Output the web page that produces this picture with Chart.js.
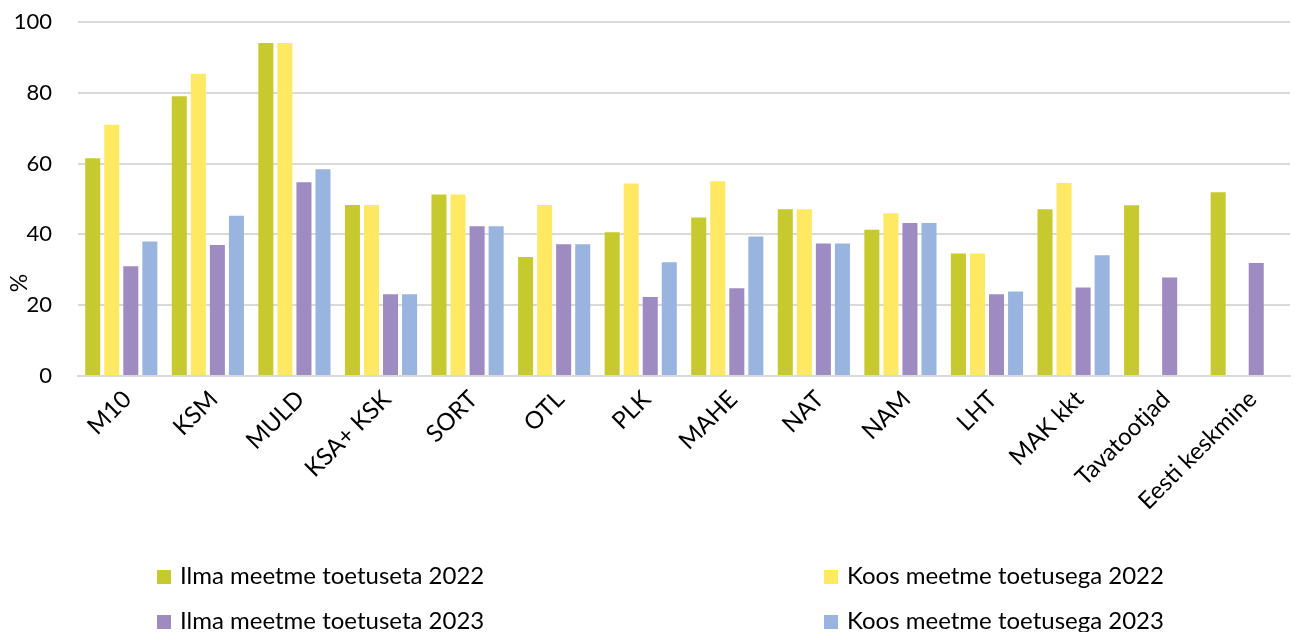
<!DOCTYPE html>
<html>
<head>
<meta charset="utf-8">
<script src="https://cdn.jsdelivr.net/npm/chart.js@4.4.0/dist/chart.umd.min.js"></script>
<style>
    body { margin: 0; background: #fff; }
    .wrap { position: relative; width: 1295px; height: 632px; }
    .legend { position: absolute; left: 0; top: 0; font-family: Lato, sans-serif; font-size: 24px; color: #000; }
    .legend-item { position: absolute; white-space: nowrap; line-height: 28px; }
    .legend-item span.box { display: inline-block; width: 14px; height: 14px; margin-right: 9px; vertical-align: 0px; }
</style>
</head>
<body>
<div class="wrap">
    <canvas id="chart" width="1295" height="632"></canvas>
    <div class="legend" id="legend"></div>
</div>
<script>
// andmed
const categories = ['M10', 'KSM', 'MULD', 'KSA+ KSK', 'SORT', 'OTL', 'PLK', 'MAHE', 'NAT', 'NAM', 'LHT', 'MAK kkt', 'Tavatootjad', 'Eesti keskmine'];
const ilma2022 = [61.5, 79.0, 94.1, 48.3, 51.3, 33.6, 40.6, 44.8, 47.1, 41.3, 34.6, 47.1, 48.2, 51.9];
const koos2022 = [71.0, 85.4, 94.1, 48.3, 51.3, 48.3, 54.4, 55.0, 47.1, 46.0, 34.6, 54.5, null, null];
const ilma2023 = [31.0, 37.0, 54.7, 23.1, 42.3, 37.2, 22.3, 24.8, 37.4, 43.2, 23.1, 25.0, 27.8, 31.9];
const koos2023 = [38.0, 45.3, 58.4, 23.1, 42.3, 37.2, 32.1, 39.4, 37.4, 43.2, 23.9, 34.1, null, null];
const yTicks = [0, 20, 40, 60, 80, 100];

const seriesNames = ['Ilma meetme toetuseta 2022', 'Koos meetme toetusega 2022', 'Ilma meetme toetuseta 2023', 'Koos meetme toetusega 2023'];
const colors = ['#c6ca2f', '#ffe963', '#9e8bc1', '#99b5df'];
const seriesData = [ilma2022, koos2022, ilma2023, koos2023];

const FONT = 'Lato, sans-serif';

// "%" telje pealkiri (Exceli moodi veidi allpool)
const pctLabel = {
    id: 'pctLabel',
    afterDraw(chart) {
        const ctx = chart.ctx;
        ctx.save();
        ctx.translate(20, 283);
        ctx.rotate(-Math.PI / 2);
        ctx.font = '23px ' + FONT;
        ctx.fillStyle = '#000';
        ctx.textAlign = 'center';
        ctx.textBaseline = 'middle';
        ctx.fillText('%', 0, 0);
        ctx.restore();
    }
};

new Chart(document.getElementById('chart'), {
    type: 'bar',
    data: {
        labels: categories,
        datasets: seriesData.map((d, i) => ({
            label: seriesNames[i],
            data: d,
            backgroundColor: colors[i],
            borderWidth: 0,
            categoryPercentage: 0.88,
            barPercentage: 0.79
        }))
    },
    options: {
        responsive: false,
        animation: false,
        devicePixelRatio: 1,
        layout: { padding: { top: 22, left: 14, right: 5, bottom: 0 } },
        plugins: {
            legend: { display: false },
            tooltip: { enabled: false }
        },
        scales: {
            x: {
                grid: { display: false, drawTicks: false },
                border: { color: '#d9d9d9', width: 2 },
                ticks: {
                    color: '#000',
                    font: { family: FONT, size: 24 },
                    minRotation: 45,
                    maxRotation: 45,
                    padding: 9,
                    labelOffset: 6,
                    autoSkip: false
                },
                afterFit(scale) { scale.height = 256; }
            },
            y: {
                min: 0,
                max: 100,
                afterBuildTicks(scale) { scale.ticks = yTicks.map(v => ({ value: v })); },
                grid: { color: '#d9d9d9', lineWidth: 2, drawTicks: false },
                border: { display: false },
                ticks: {
                    color: '#000',
                    font: { family: FONT, size: 22 },
                    padding: 26
                },
                afterFit(scale) {
                    scale.width = 64;
                    scale.paddingTop = 12;
                    scale.paddingBottom = 0;
                }
            }
        }
    },
    plugins: [pctLabel]
});

// legend 2x2
const legendPos = [[157, 561], [824, 561], [157, 606], [824, 606]];
const legend = document.getElementById('legend');
seriesNames.forEach((name, i) => {
    const item = document.createElement('div');
    item.className = 'legend-item';
    item.style.left = legendPos[i][0] + 'px';
    item.style.top = legendPos[i][1] + 'px';
    item.innerHTML = `<span class="box" style="background:${colors[i]}"></span>${name}`;
    legend.appendChild(item);
});
</script>
</body>
</html>
